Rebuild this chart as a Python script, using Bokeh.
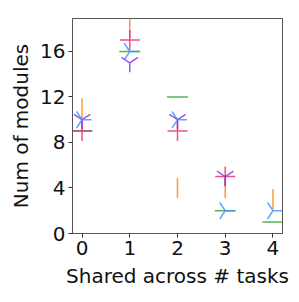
import numpy as np
from bokeh.plotting import figure
from bokeh.models import Range1d, FixedTicker
from bokeh.embed import file_html
from bokeh.resources import INLINE

x = [0, 1, 2, 3, 4]
orange_vals = [11, 18, 4, 4, 3]
green_vals = [9, 16, 12, 2, 1]
pink_vals = [9, 17, 9, 5, np.nan]
purple_vals = [10, 15, 10, 5, np.nan]
blue_vals = [10, 16, 10, 2, 2]
x_ticks = [0, 1, 2, 3, 4]
y_ticks = [0, 4, 8, 12, 16]

p = figure(frame_width=210, frame_height=215,
           x_range=Range1d(-0.2, 4.2), y_range=Range1d(0, 18.9),
           output_backend="svg", toolbar_location=None,
           min_border_left=72, min_border_right=9,
           min_border_top=18, min_border_bottom=61)

p.xgrid.visible = False
p.ygrid.visible = False
p.outline_line_color = "#555555"
p.outline_line_width = 1

p.xaxis.ticker = FixedTicker(ticks=x_ticks)
p.yaxis.ticker = FixedTicker(ticks=y_ticks)
for ax in (p.xaxis, p.yaxis):
    ax.major_label_text_font = "DejaVu Sans"
    ax.major_label_text_font_size = "20px"
    ax.major_label_text_color = "#111111"
    ax.axis_label_text_font = "DejaVu Sans"
    ax.axis_label_text_font_size = "20px"
    ax.axis_label_text_font_style = "normal"
    ax.axis_label_text_color = "#111111"
    ax.major_tick_out = 4
    ax.major_tick_in = 0
    ax.minor_tick_line_color = None
    ax.major_tick_line_color = "#333333"
    ax.axis_line_color = "#555555"
    ax.major_label_standoff = 3
p.xaxis.axis_label = "Shared across # tasks"
p.yaxis.axis_label = "Num of modules"
p.xaxis.axis_label_standoff = 6
p.yaxis.axis_label_standoff = 4

alpha = 0.8
lw = 1.5
p.scatter(x, orange_vals, marker="dash", angle=np.pi / 2, size=20,
          line_color="#ff7f0e", line_alpha=alpha, line_width=lw)
p.scatter(x, green_vals, marker="dash", size=21,
          line_color="#2ca02c", line_alpha=alpha, line_width=lw)
p.scatter(x, pink_vals, marker="cross", size=20,
          line_color="#ec246d", line_alpha=alpha, line_width=lw)
p.scatter(x, purple_vals, marker="y", size=19,
          line_color="#8a2be2", line_alpha=alpha, line_width=lw)
p.scatter(x, blue_vals, marker="y", angle=np.pi / 2, size=19,
          line_color="#3d8fff", line_alpha=alpha, line_width=lw)

open("out.html", "w").write(file_html(p, INLINE))
